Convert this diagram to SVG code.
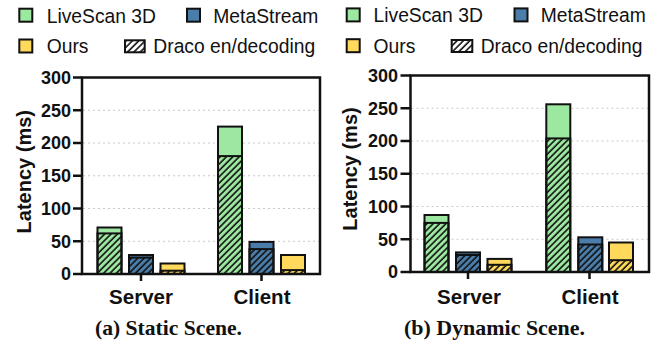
<svg xmlns="http://www.w3.org/2000/svg" width="668" height="352" viewBox="0 0 668 352">
<style>
.lg{font-family:"Liberation Sans",Arial,sans-serif;font-size:19.3px;fill:#111}
.tk{font-family:"Liberation Sans",Arial,sans-serif;font-size:18px;font-weight:bold;fill:#111;text-anchor:end}
.yl{font-family:"Liberation Sans",Arial,sans-serif;font-size:20px;font-weight:bold;fill:#111;text-anchor:middle}
.xl{font-family:"Liberation Sans",Arial,sans-serif;font-size:20.5px;font-weight:bold;fill:#111;text-anchor:middle}
.cap{font-family:"Liberation Serif","Times New Roman",serif;font-size:22px;font-weight:bold;fill:#111}
.g{fill:#9de8a0;stroke:#111;stroke-width:2}
.b{fill:#4a7daa;stroke:#111;stroke-width:2}
.y{fill:#ffd95c;stroke:#111;stroke-width:2}
.h{fill:url(#hatch);stroke:#111;stroke-width:2}
.grid{stroke:#c8c8c8;stroke-width:1;stroke-dasharray:2 3}
.ax{fill:none;stroke:#111;stroke-width:2.5}
.tick{stroke:#111;stroke-width:2.5}
</style>
<defs>
<pattern id="hatch" width="4.5" height="4.5" patternUnits="userSpaceOnUse" patternTransform="rotate(45)">
<line x1="1" y1="0" x2="1" y2="4.5" stroke="#111" stroke-width="1.6"/>
</pattern>
</defs>

<g id="legend-a">
<rect class="g" x="19.3" y="8.7" width="13" height="13"/>
<text class="lg" x="46.7" y="22.7">LiveScan 3D</text>
<rect class="b" x="187" y="8.7" width="13" height="13"/>
<text class="lg" x="213.3" y="22.7">MetaStream</text>
<rect class="y" x="19.3" y="39.5" width="13" height="13"/>
<text class="lg" x="46.7" y="53">Ours</text>
<rect fill="#fff" x="125" y="40.3" width="19.7" height="12"/>
<rect class="h" x="125" y="40.3" width="19.7" height="12"/>
<text class="lg" x="153.3" y="53">Draco en/decoding</text>
</g>

<g id="legend-b">
<rect class="g" x="346.7" y="8.4" width="13" height="13"/>
<text class="lg" x="373.5" y="22.4">LiveScan 3D</text>
<rect class="b" x="514.5" y="8.4" width="13" height="13"/>
<text class="lg" x="540.7" y="22.4">MetaStream</text>
<rect class="y" x="346.7" y="39.2" width="13" height="13"/>
<text class="lg" x="373.5" y="52.7">Ours</text>
<rect fill="#fff" x="451.7" y="40" width="20.6" height="12"/>
<rect class="h" x="451.7" y="40" width="20.6" height="12"/>
<text class="lg" x="480.7" y="52.7">Draco en/decoding</text>
</g>

<g id="chart-a">
<g id="grid-a">
<line class="grid" x1="83" y1="241.25" x2="319" y2="241.25"/>
<line class="grid" x1="83" y1="208.5" x2="319" y2="208.5"/>
<line class="grid" x1="83" y1="175.75" x2="319" y2="175.75"/>
<line class="grid" x1="83" y1="143" x2="319" y2="143"/>
<line class="grid" x1="83" y1="110.25" x2="319" y2="110.25"/>
</g>
<g id="bars-a">
<rect class="g" x="97.5" y="227.5" width="24" height="46.5"/>
<rect class="h" x="97.5" y="233.4" width="24" height="40.6"/>
<rect class="b" x="129" y="255" width="24" height="19"/>
<rect class="h" x="129" y="257.6" width="24" height="16.4"/>
<rect class="y" x="160.5" y="263.5" width="24" height="10.5"/>
<rect class="h" x="160.5" y="270.7" width="24" height="3.3"/>
<rect class="g" x="218" y="126.6" width="24" height="147.4"/>
<rect class="h" x="218" y="156.1" width="24" height="117.9"/>
<rect class="b" x="249.5" y="241.9" width="24" height="32.1"/>
<rect class="h" x="249.5" y="249.1" width="24" height="24.9"/>
<rect class="y" x="281" y="255" width="24" height="19"/>
<rect class="h" x="281" y="270.1" width="24" height="3.9"/>
</g>
<g id="axes-a">
<rect class="ax" x="82" y="77.5" width="238" height="196.5"/>
<line class="tick" x1="73" y1="274" x2="82" y2="274"/>
<line class="tick" x1="73" y1="241.25" x2="82" y2="241.25"/>
<line class="tick" x1="73" y1="208.5" x2="82" y2="208.5"/>
<line class="tick" x1="73" y1="175.75" x2="82" y2="175.75"/>
<line class="tick" x1="73" y1="143" x2="82" y2="143"/>
<line class="tick" x1="73" y1="110.25" x2="82" y2="110.25"/>
<line class="tick" x1="73" y1="77.5" x2="82" y2="77.5"/>
<line class="tick" x1="141" y1="274" x2="141" y2="281"/>
<line class="tick" x1="261.5" y1="274" x2="261.5" y2="281"/>
<text class="tk" x="71" y="280.3">0</text>
<text class="tk" x="71" y="247.5">50</text>
<text class="tk" x="71" y="214.8">100</text>
<text class="tk" x="71" y="182">150</text>
<text class="tk" x="71" y="149.3">200</text>
<text class="tk" x="71" y="116.5">250</text>
<text class="tk" x="71" y="83.8">300</text>
<text class="yl" transform="translate(31,171.7) rotate(-90)">Latency (ms)</text>
<text class="xl" x="141" y="303.5">Server</text>
<text class="xl" x="262" y="303.5">Client</text>
</g>
<text class="cap" x="95" y="335" textLength="147" lengthAdjust="spacingAndGlyphs">(a) Static Scene.</text>
</g>

<g id="chart-b">
<g id="grid-b">
<line class="grid" x1="411.5" y1="239.25" x2="648" y2="239.25"/>
<line class="grid" x1="411.5" y1="206.5" x2="648" y2="206.5"/>
<line class="grid" x1="411.5" y1="173.75" x2="648" y2="173.75"/>
<line class="grid" x1="411.5" y1="141" x2="648" y2="141"/>
<line class="grid" x1="411.5" y1="108.25" x2="648" y2="108.25"/>
</g>
<g id="bars-b">
<rect class="g" x="424.5" y="215" width="24" height="57"/>
<rect class="h" x="424.5" y="222.9" width="24" height="49.1"/>
<rect class="b" x="456" y="252.4" width="24" height="19.6"/>
<rect class="h" x="456" y="255" width="24" height="17"/>
<rect class="y" x="487.5" y="258.9" width="24" height="13.1"/>
<rect class="h" x="487.5" y="264.8" width="24" height="7.2"/>
<rect class="g" x="546.3" y="104.3" width="24" height="167.7"/>
<rect class="h" x="546.3" y="138.4" width="24" height="133.6"/>
<rect class="b" x="578.3" y="237.3" width="24" height="34.7"/>
<rect class="h" x="578.3" y="244.5" width="24" height="27.5"/>
<rect class="y" x="609" y="242.5" width="24" height="29.5"/>
<rect class="h" x="609" y="260.2" width="24" height="11.8"/>
</g>
<g id="axes-b">
<rect class="ax" x="410.5" y="75.5" width="238.5" height="196.5"/>
<line class="tick" x1="400.5" y1="272" x2="410.5" y2="272"/>
<line class="tick" x1="400.5" y1="239.25" x2="410.5" y2="239.25"/>
<line class="tick" x1="400.5" y1="206.5" x2="410.5" y2="206.5"/>
<line class="tick" x1="400.5" y1="173.75" x2="410.5" y2="173.75"/>
<line class="tick" x1="400.5" y1="141" x2="410.5" y2="141"/>
<line class="tick" x1="400.5" y1="108.25" x2="410.5" y2="108.25"/>
<line class="tick" x1="400.5" y1="75.5" x2="410.5" y2="75.5"/>
<line class="tick" x1="468" y1="272" x2="468" y2="279"/>
<line class="tick" x1="589.5" y1="272" x2="589.5" y2="279"/>
<text class="tk" x="398" y="278.3">0</text>
<text class="tk" x="398" y="245.5">50</text>
<text class="tk" x="398" y="212.8">100</text>
<text class="tk" x="398" y="180">150</text>
<text class="tk" x="398" y="147.3">200</text>
<text class="tk" x="398" y="114.5">250</text>
<text class="tk" x="398" y="81.8">300</text>
<text class="yl" transform="translate(357,169) rotate(-90)">Latency (ms)</text>
<text class="xl" x="469" y="303.5">Server</text>
<text class="xl" x="590" y="303.5">Client</text>
</g>
<text class="cap" x="404" y="335" textLength="181" lengthAdjust="spacingAndGlyphs">(b) Dynamic Scene.</text>
</g>
</svg>
